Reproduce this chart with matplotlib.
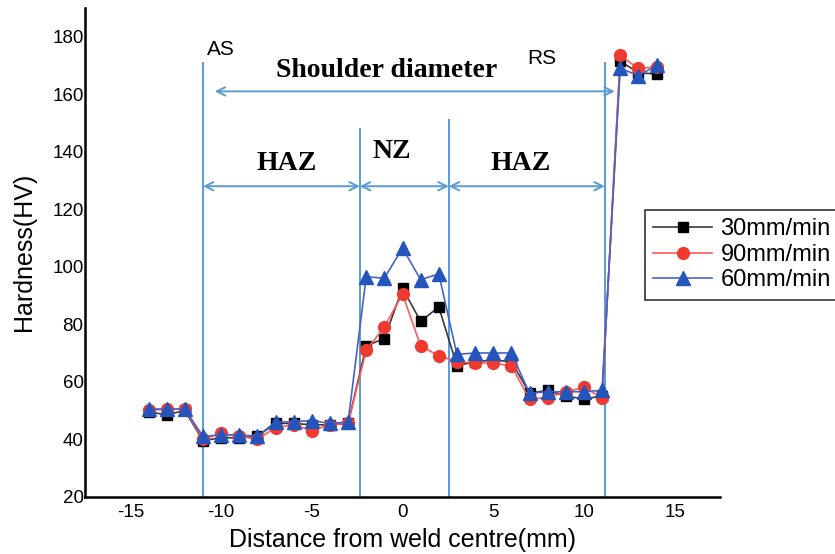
"""Hardness profile across the weld"""

import numpy as np
from matplotlib import pyplot as plt

# distance from weld centre (mm)
dist = [-14, -13, -12, -11, -10, -9, -8, -7, -6, -5, -4, -3, -2, -1, 0,
        1, 2, 3, 4, 5, 6, 7, 8, 9, 10, 11, 12, 13, 14]

hv_30 = [49.5, 48.5, 50, 39.5, 40.5, 40.5, 41, 45.5, 45.5, 45, 45, 45.5, 72.5, 75, 92.5,
         81, 86, 65.5, 67, 67.5, 67, 56, 57, 55, 54, 55, 171.5, 167.5, 167]
hv_90 = [50, 50.5, 50.5, 40, 42, 41, 40, 44, 45, 43, 45, 45.5, 71, 79, 90.5,
         72.5, 69, 67, 66.5, 66.5, 65.5, 54, 54.5, 56.5, 58, 54.5, 173.5, 169, 169.5]
hv_60 = [50.5, 50.5, 50.5, 41, 41.5, 41.5, 41, 46, 46, 46.5, 45.5, 46, 96.5, 96, 106.5,
         95.5, 97.5, 69.5, 70, 70, 70, 56, 56.5, 56.5, 56.5, 57, 169, 166.5, 170]

series_labels = ["30mm/min", "90mm/min", "60mm/min"]

# zone boundaries (mm) and how high they go (HV)
zone_x = [-11, -2.35, 2.55, 11.15]
zone_top = [171, 148, 151, 171]

plt.rcParams['font.family'] = ['Liberation Sans', 'DejaVu Sans']
plt.rcParams['axes.unicode_minus'] = False

fig = plt.figure(figsize=(8.35, 5.54), dpi=100)
ax = fig.add_axes([85/835, 1-496.7/554, 635/835, 488.7/554])

ax.plot(dist, hv_30, color='#3a3a3a', lw=1.2, marker='s', ms=7,
        mfc='black', mec='black', label=series_labels[0])
ax.plot(dist, hv_90, color='#ff5a5a', lw=1.2, marker='o', ms=8.5,
        mfc='#f03a30', mec='#f03a30', label=series_labels[1])
ax.plot(dist, hv_60, color='#4a62c8', lw=1.2, marker='^', ms=9.5,
        mfc='#2455bb', mec='#2455bb', label=series_labels[2])

zc = '#5b9bd5'
for x, top in zip(zone_x, zone_top):
    ax.plot([x, x], [20, top], color=zc, lw=1.4, zorder=1)

arr = dict(arrowstyle='<->,head_length=0.6,head_width=0.3', color=zc, lw=1.4,
           shrinkA=0, shrinkB=0)
ax.annotate('', xy=(-10.35, 161), xytext=(11.7, 161), arrowprops=arr)
ax.annotate('', xy=(zone_x[0], 128), xytext=(zone_x[1], 128), arrowprops=arr)
ax.annotate('', xy=(zone_x[1], 128), xytext=(zone_x[2], 128), arrowprops=arr)
ax.annotate('', xy=(zone_x[2], 128), xytext=(zone_x[3], 128), arrowprops=arr)

ax.text(-10.8, 175.4, "AS", fontsize=15, ha='left', va='center')
ax.text(6.9, 172.6, "RS", fontsize=15, ha='left', va='center')
bold = dict(family='Liberation Serif', fontweight='bold', fontsize=20,
            ha='center', va='center')
ax.text(-0.86, 168.4, "Shoulder diameter", **bold)
ax.text(-6.4, 136, "HAZ", **bold)
ax.text(-0.57, 140, "NZ", **bold)
ax.text(6.54, 136, "HAZ", **bold)

ax.set_xlim(-17.5, 17.5)
ax.set_ylim(20, 190)
ax.set_xticks([-15, -10, -5, 0, 5, 10, 15])
ax.set_yticks(np.arange(20, 181, 20))
ax.tick_params(axis='both', length=0, labelsize=13.5)
ax.tick_params(axis='y', pad=1)
ax.tick_params(axis='x', pad=5)
for s in ['top', 'right']:
    ax.spines[s].set_visible(False)
for s in ['left', 'bottom']:
    ax.spines[s].set_linewidth(1.8)

ax.set_xlabel("Distance from weld centre(mm)", fontsize=18, labelpad=5)
ax.set_ylabel("Hardness(HV)", fontsize=18, labelpad=12)

leg = ax.legend(loc='upper left', bbox_to_anchor=(645/835, 1-210/554),
                bbox_transform=fig.transFigure, fontsize=17, frameon=True,
                fancybox=False, edgecolor='black', borderaxespad=0,
                handlelength=2.5, handletextpad=0.35, labelspacing=0.15,
                borderpad=0.35)
leg.get_frame().set_linewidth(1.2)

plt.savefig("out.png", dpi=100)
